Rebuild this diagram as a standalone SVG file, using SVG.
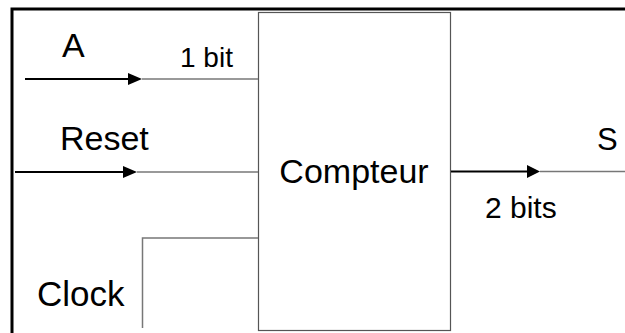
<svg xmlns="http://www.w3.org/2000/svg" width="625" height="333" viewBox="0 0 625 333">
<style>
text{font-family:"Liberation Sans",Arial,sans-serif;fill:#000}
.blk{stroke:#000;stroke-width:2;fill:none}
.gry{stroke:#777;stroke-width:1.5;fill:none}
.head{fill:#000;stroke:none}
</style>
<rect width="625" height="333" fill="#fff"/>
<g id="frame">
<path d="M12,333 V9 H625" stroke="#000" stroke-width="3" fill="none"/>
</g>
<g id="compteur">
<rect x="258.5" y="12.5" width="192" height="318" fill="#fff" stroke="#555" stroke-width="1.2"/>
<text x="354" y="183" font-size="34" text-anchor="middle">Compteur</text>
</g>
<g id="connectors">
<line class="blk" x1="25" y1="79" x2="130" y2="79"/>
<polygon class="head" points="128,73 142,79 128,85"/>
<line class="gry" x1="142" y1="79" x2="258" y2="79"/>
<line class="blk" x1="15" y1="172" x2="125" y2="172"/>
<polygon class="head" points="123,166 137,172 123,178"/>
<line class="gry" x1="137" y1="172" x2="258" y2="172"/>
<path class="gry" d="M142.5,328 V238 H258"/>
<line class="blk" x1="451" y1="171.5" x2="529" y2="171.5"/>
<polygon class="head" points="527,165 540,171.5 527,178"/>
<line class="gry" x1="540" y1="171.5" x2="625" y2="171.5"/>
</g>
<g id="labels">
<text x="62" y="57" font-size="34">A</text>
<text x="180" y="67" font-size="28">1 bit</text>
<text x="60" y="150" font-size="34">Reset</text>
<text x="597" y="150" font-size="31">S</text>
<text x="485" y="218" font-size="30">2 bits</text>
<text x="37" y="306" font-size="35">Clock</text>
</g>
</svg>
